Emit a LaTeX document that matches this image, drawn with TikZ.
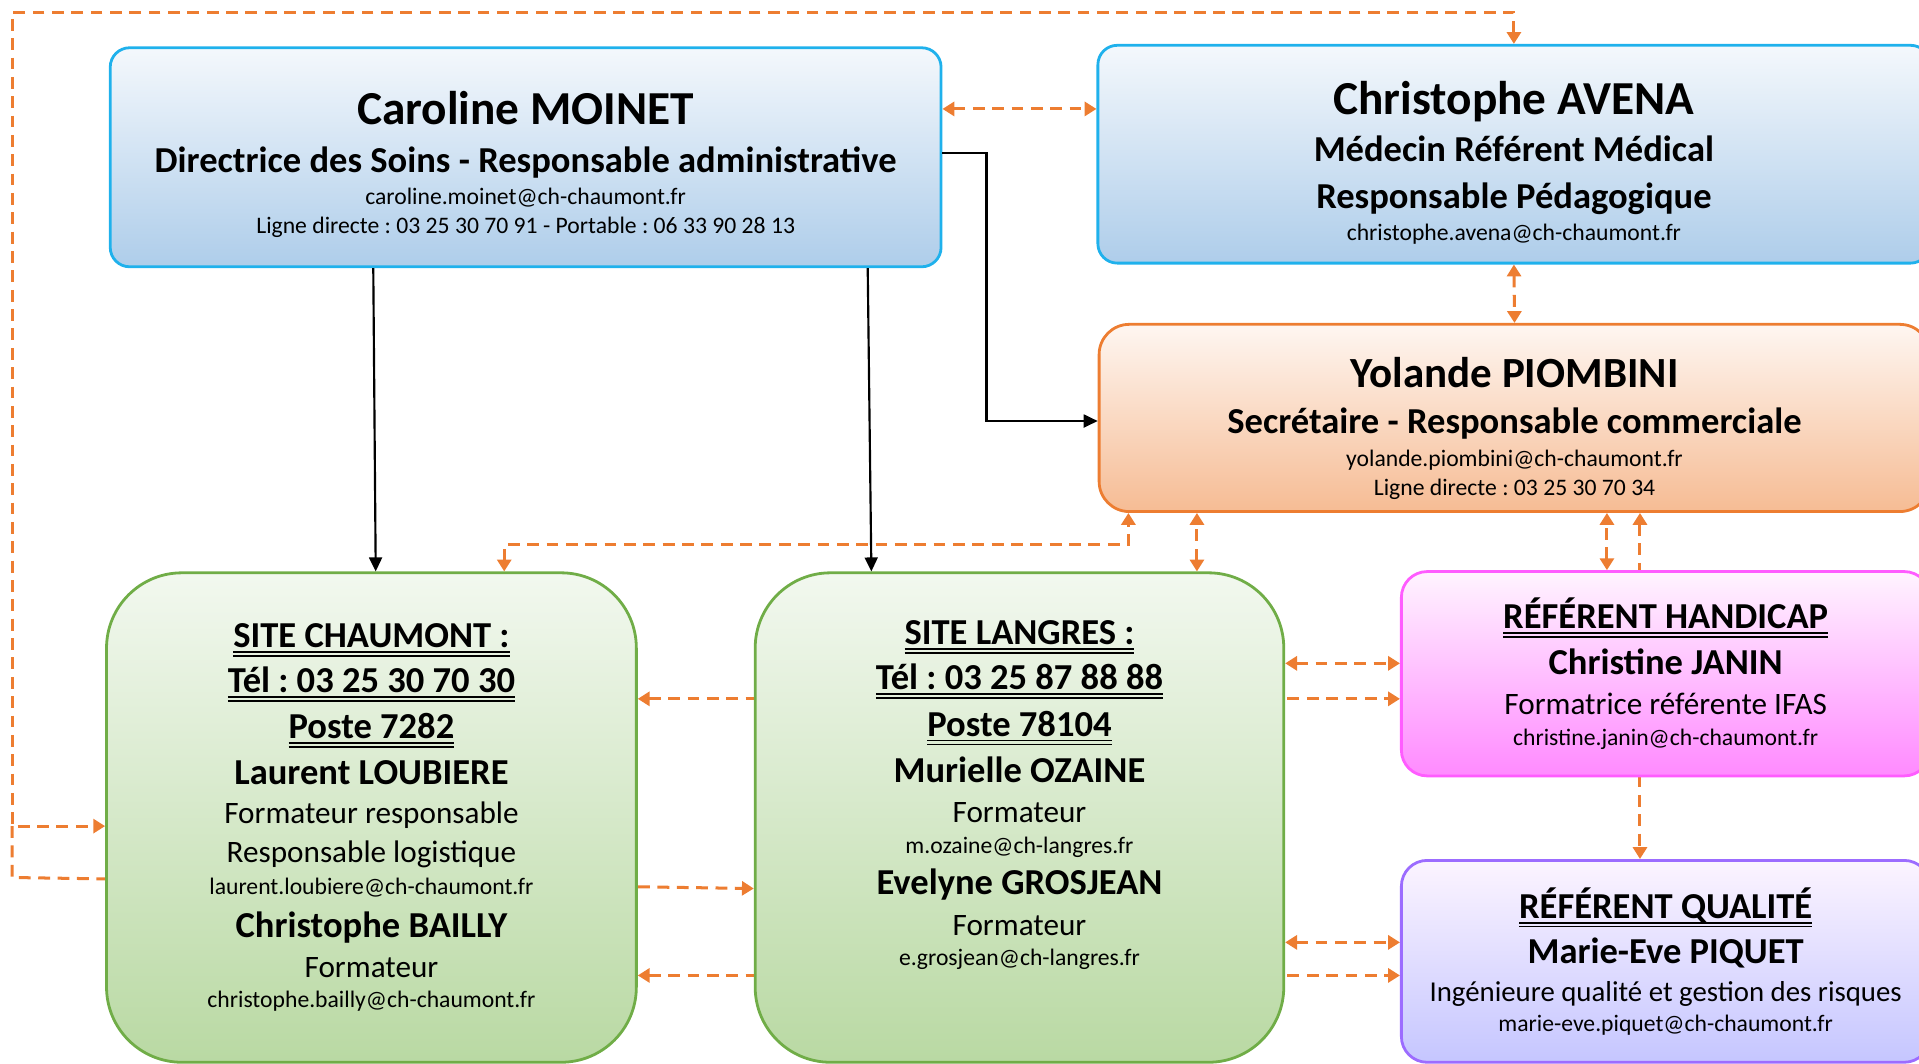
\documentclass[tikz,border=0pt]{standalone}
\usepackage{fontspec}
\setmainfont{Carlito}
\usetikzlibrary{arrows.meta,backgrounds}
\frenchspacing

\definecolor{bluedge}{HTML}{1FB1EC}
\definecolor{bluetop}{HTML}{F4F8FC}
\definecolor{bluebot}{HTML}{AECDEA}
\definecolor{orangedge}{HTML}{ED7D31}
\definecolor{orangetop}{HTML}{FEF6F1}
\definecolor{orangebot}{HTML}{F6BC94}
\definecolor{greenedge}{HTML}{70AD47}
\definecolor{greentop}{HTML}{F2F8EF}
\definecolor{greenbot}{HTML}{B9D9A3}
\definecolor{pinkedge}{HTML}{FF5CFF}
\definecolor{pinktop}{HTML}{FFF4FF}
\definecolor{pinkbot}{HTML}{FF8AFF}
\definecolor{violetedge}{HTML}{9C6CFF}
\definecolor{violettop}{HTML}{FCF4FF}
\definecolor{violetbot}{HTML}{C5C6FF}

\newcommand{\fnom}{\fontsize{22}{26}\selectfont\bfseries}
\newcommand{\ftitre}{\fontsize{17}{20}\selectfont\bfseries}
\newcommand{\frole}{\fontsize{14.5}{17}\selectfont}
\newcommand{\fmail}{\fontsize{11}{13}\selectfont}
\newsavebox{\soulbox}
\newcommand{\dblul}[1]{\sbox{\soulbox}{#1}\rlap{\rule[-2.4pt]{\wd\soulbox}{0.8pt}}\rlap{\rule[-4.2pt]{\wd\soulbox}{0.8pt}}\usebox{\soulbox}}

\begin{document}
\begin{tikzpicture}
[x=0.02cm, y=-0.02cm,
bluebox/.style={rectangle, rounded corners=9pt, draw=bluedge, line width=1.3pt, top color=bluetop, bottom color=bluebot, align=center, inner sep=0pt, font=\fontsize{11}{18.5}\selectfont},
orangebox/.style={rectangle, rounded corners=14pt, draw=orangedge, line width=1.3pt, top color=orangetop, bottom color=orangebot, align=center, inner sep=0pt, font=\fontsize{11}{18.5}\selectfont},
sitebox/.style={rectangle, rounded corners=35pt, draw=greenedge, line width=1.3pt, top color=greentop, bottom color=greenbot, align=center, inner sep=0pt, font=\fontsize{11}{18.5}\selectfont},
handibox/.style={rectangle, rounded corners=12pt, draw=pinkedge, line width=1.3pt, top color=pinktop, bottom color=pinkbot, align=center, inner sep=0pt, font=\fontsize{11}{18.5}\selectfont},
qualibox/.style={rectangle, rounded corners=12pt, draw=violetedge, line width=1.3pt, top color=violettop, bottom color=violetbot, align=center, inner sep=0pt, font=\fontsize{11}{18.5}\selectfont},
connect/.style={-{Triangle[length=6.5pt,width=6pt]}, line width=1pt, draw=black},
dashlink/.style={{Triangle[length=5.5pt,width=6.5pt]}-{Triangle[length=5.5pt,width=6.5pt]}, draw=orangedge, line width=1.4pt, dash pattern=on 5.5pt off 3.5pt},
dashto/.style={-{Triangle[length=5.5pt,width=6.5pt]}, draw=orangedge, line width=1.4pt, dash pattern=on 5.5pt off 3.5pt}]
\useasboundingbox (0,0) rectangle (1568,869);
\clip (0,0) rectangle (1568,869);

\node[bluebox, minimum width=13.58cm, minimum height=3.58cm] (moinet) at (429.5,128.5)
{{\fnom\rule{0pt}{22.1pt}Caroline MOINET}\\[3.7pt]
{\ftitre Directrice des Soins - Responsable administrative}\\[-3.5pt]
{\fmail caroline.moinet@ch-chaumont.fr}\\[-4.9pt]
{\fmail Ligne directe : 03 25 30 70 91 - Portable : 06 33 90 28 13}};
\node[bluebox, minimum width=13.6cm, minimum height=3.56cm] (avena) at (1237,126)
{{\fnom\rule{0pt}{23.3pt}Christophe AVENA}\\[3.7pt]
{\ftitre Médecin Référent Médical}\\[3pt]
{\ftitre Responsable Pédagogique}\\[-3.5pt]
{\fmail christophe.avena@ch-chaumont.fr}};
\node[orangebox, minimum width=13.58cm, minimum height=3.06cm] (piombini) at (1237.5,341.5)
{{\fontsize{20}{24}\selectfont\bfseries\rule{0pt}{23.5pt}Yolande PIOMBINI}\\[3.3pt]
{\ftitre Secrétaire - Responsable commerciale}\\[-3.5pt]
{\fmail yolande.piombini@ch-chaumont.fr}\\[-4.9pt]
{\fmail Ligne directe : 03 25 30 70 34}};
\node[sitebox, minimum width=8.66cm, minimum height=8cm] (chaumont) at (303.5,668)
{{\ftitre\dblul{SITE CHAUMONT :}}\\[2.5pt]
{\ftitre\dblul{Tél : 03 25 30 70 30}}\\[3pt]
{\ftitre\dblul{Poste 7282}}\\[2.5pt]
{\ftitre Laurent LOUBIERE}\\[0pt]
{\frole Formateur responsable}\\[-0.4pt]
{\frole Responsable logistique}\\[-3.8pt]
{\fmail laurent.loubiere@ch-chaumont.fr}\\[1.6pt]
{\ftitre Christophe BAILLY}\\[0pt]
{\frole Formateur}\\[-4.4pt]
{\fmail christophe.bailly@ch-chaumont.fr}};
\node[sitebox, minimum width=8.64cm, minimum height=8cm] (langres) at (833,668)
{{\ftitre\dblul{SITE LANGRES :}}\\[2.5pt]
{\ftitre\dblul{Tél : 03 25 87 88 88}}\\[3pt]
{\ftitre\dblul{Poste 78104}}\\[3pt]
{\ftitre Murielle OZAINE}\\[0pt]
{\frole Formateur}\\[-3.8pt]
{\fmail m.ozaine@ch-langres.fr}\\[0.5pt]
{\ftitre Evelyne GROSJEAN}\\[0.5pt]
{\frole Formateur}\\[-4.4pt]
{\fmail e.grosjean@ch-langres.fr\rule[-22.5pt]{0pt}{22.5pt}}};
\node[handibox, minimum width=8.64cm, minimum height=3.34cm] (handicap) at (1361,550.5)
{{\ftitre\dblul{RÉFÉRENT HANDICAP}}\\[2.5pt]
{\ftitre Christine JANIN}\\[0.5pt]
{\frole Formatrice référente IFAS}\\[-4.4pt]
{\fmail christine.janin@ch-chaumont.fr}};
\node[qualibox, minimum width=8.64cm, minimum height=3.3cm] (qualite) at (1361,785.5)
{{\ftitre\dblul{RÉFÉRENT QUALITÉ}}\\[2.5pt]
{\ftitre Marie-Eve PIQUET}\\[-1pt]
{\fontsize{13.4}{16}\selectfont Ingénieure qualité et gestion des risques}\\[-4.6pt]
{\fmail marie-eve.piquet@ch-chaumont.fr}};
\coordinate (split) at (10,675);

\draw[dashlink] (moinet.east |- 0,89) -- (avena.west |- 0,89);
\draw[connect] (moinet.east |- 0,125) -- ++(36,0) |- (piombini.west |- 0,344);
\draw[connect] (moinet.south -| 305,0) -- (chaumont.north -| 307,0);
\draw[connect] (moinet.south -| 709,0) -- (langres.north -| 712,0);
\draw[dashlink] (avena.south) -- (piombini.north);
\draw[dashlink] (chaumont.north -| 412,0) |- (922,445) -- (piombini.south -| 922,0);
\draw[dashlink] (langres.north -| 978,0) -- (piombini.south -| 978,0);
\draw[dashlink] (handicap.north -| 1313,0) -- (piombini.south -| 1313,0);
\draw[dashlink] (langres.east |- 0,542) -- (handicap.west |- 0,542);
\draw[dashlink] (langres.east |- 0,770) -- (qualite.west |- 0,770);
\draw[dashlink] (avena.north) |- (10,10) |- (chaumont.west |- split);
\begin{scope}[on background layer]
\draw[dashlink] (piombini.south -| 1340,0) -- (qualite.north -| 1340,0);
\draw[dashlink] (chaumont.east |- 0,571) -- (handicap.west |- 0,571);
\draw[dashlink] (chaumont.east |- 0,797) -- (qualite.west |- 0,797);
\draw[dashto] (split) -- ++(0,42) -- (langres.west |- 0,726);
\end{scope}

\end{tikzpicture}
\end{document}
